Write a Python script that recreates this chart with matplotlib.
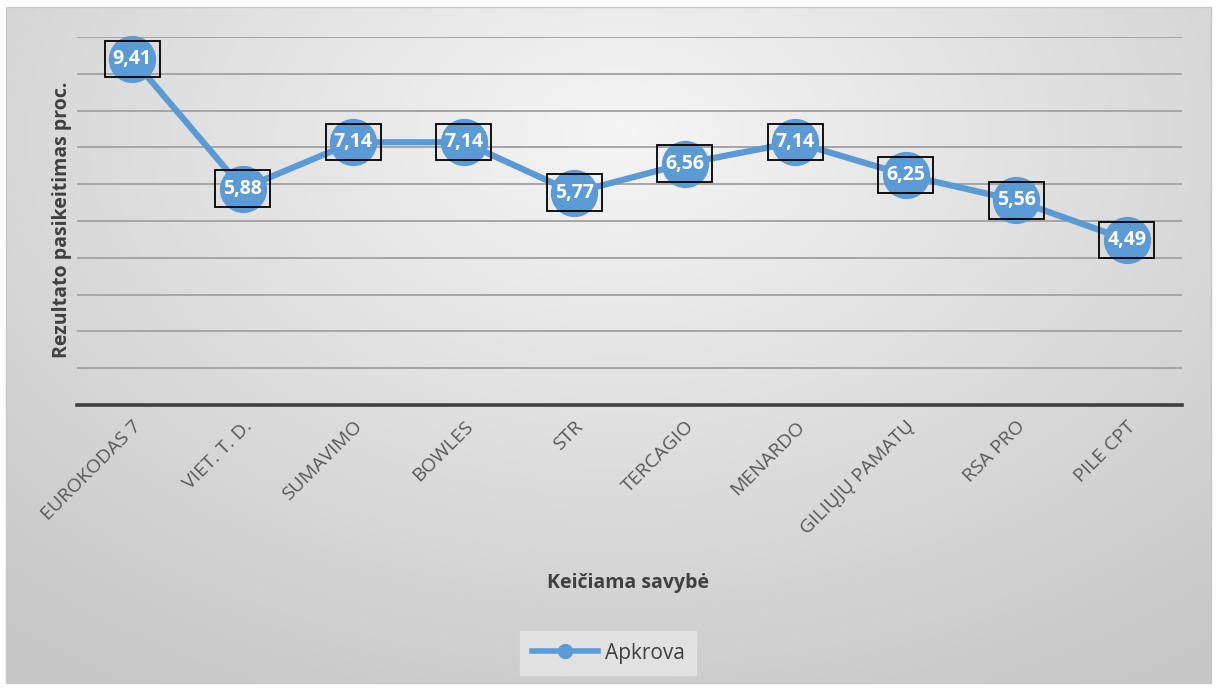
import matplotlib

matplotlib.use("Agg")
import matplotlib.pyplot as plt
import numpy as np
from matplotlib.lines import Line2D
from matplotlib.patches import Rectangle

CATEGORIES = ["EUROKODAS 7", "VIET. T. D.", "SUMAVIMO", "BOWLES", "STR",
              "TERCAGIO", "MENARDO", "GILIŲJŲ PAMATŲ", "RSA PRO", "PILE CPT"]
VALUES = [9.41, 5.88, 7.14, 7.14, 5.77, 6.56, 7.14, 6.25, 5.56, 4.49]
SERIES_NAME = "Apkrova"

BLUE = "#5B9BD5"
TEXT = "#404040"
TICK_TEXT = "#595959"
FONT = ["Open Sans", "DejaVu Sans"]

W, H = 1216, 690
fig = plt.figure(figsize=(W / 100, H / 100), dpi=100)

# background: white page, chart area with a soft radial grey gradient
bg = fig.add_axes([0, 0, 1, 1], zorder=-10)
bg.set_xlim(0, W)
bg.set_ylim(H, 0)
bg.axis("off")
yy, xx = np.mgrid[0:H, 0:W]
r = np.sqrt(((xx - 620) / 900.0) ** 2 + ((yy - 130) / 620.0) ** 2)
shade = np.clip(0.96 - 0.17 * r, 0.78, 0.965)
img = np.dstack([shade, shade, shade])
bg.imshow(img, extent=(6, 1211, 683, 7), aspect="auto")
bg.add_patch(Rectangle((6, 7), 1205, 676, fill=False, edgecolor="#c8c8c8", lw=1))

ax = fig.add_axes([77 / W, 1 - 405 / H, (1182 - 77) / W, (405 - 37) / H])
ax.patch.set_alpha(0)
x = np.arange(len(CATEGORIES))
ax.set_xlim(-0.5, len(CATEGORIES) - 0.5)
ax.set_ylim(0, 10)
ax.set_yticks(np.arange(1, 11))
ax.yaxis.grid(True, color="#a6a6a6", lw=1.4)
ax.set_axisbelow(True)
for s in ("top", "right", "left"):
    ax.spines[s].set_visible(False)
ax.spines["bottom"].set_color("#404040")
ax.spines["bottom"].set_linewidth(2.6)
ax.tick_params(axis="y", length=0, labelleft=False)
ax.tick_params(axis="x", length=0, pad=9)
ax.set_xticks(x)
ax.set_xticklabels(CATEGORIES, rotation=45, ha="right", rotation_mode="anchor",
                   fontsize=14, color=TICK_TEXT, family=FONT)

ax.plot(x, VALUES, color=BLUE, lw=4.5, marker="o", markersize=33,
        markerfacecolor=BLUE, markeredgecolor=BLUE, clip_on=False, zorder=3)

for xi, v in zip(x, VALUES):
    ax.annotate(f"{v:.2f}".replace(".", ","), (xi, v), ha="center", va="center",
                fontsize=14, fontweight="bold", color="white", family=FONT,
                zorder=5,
                bbox=dict(boxstyle="square,pad=0.42", facecolor="none",
                          edgecolor="black", lw=1.3))

fig.text(62 / W, 1 - 220 / H, "Rezultato pasikeitimas proc.", rotation=90,
         ha="center", va="center", fontsize=14, fontweight="bold",
         color=TEXT, family=FONT)
fig.text(628 / W, 1 - 583 / H, "Keičiama savybė", ha="center", va="center",
         fontsize=14, fontweight="bold", color=TEXT, family=FONT)

handle = Line2D([0], [0], color=BLUE, lw=4, marker="o", markersize=10,
                markerfacecolor=BLUE, markeredgecolor=BLUE)
leg = fig.legend([handle], [SERIES_NAME], loc="center",
                 bbox_to_anchor=(608 / W, 1 - 653 / H), frameon=True,
                 fancybox=False, handlelength=3.2, borderpad=0.55,
                 handletextpad=0.3, prop={"family": FONT, "size": 15})
leg.get_frame().set_facecolor("#e6e6e6")
leg.get_frame().set_edgecolor("#e6e6e6")
for t in leg.get_texts():
    t.set_color(TEXT)

fig.savefig("out.png", dpi=100, facecolor="white")
